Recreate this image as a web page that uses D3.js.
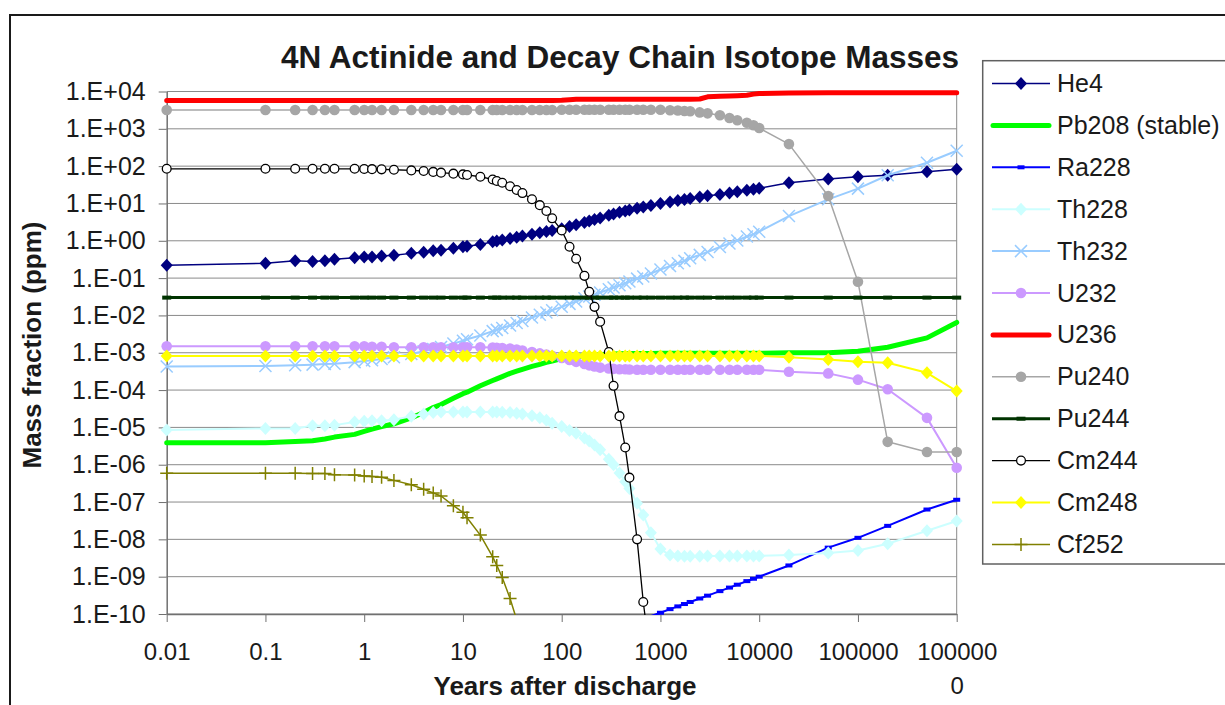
<!DOCTYPE html>
<html>
<head>
<meta charset="utf-8">
<script src="https://cdn.jsdelivr.net/npm/d3@7"></script>
<style>
  body { margin: 0; background: #fff; }
  svg { display: block; font-family: 'Liberation Sans', Arial, sans-serif; }
</style>
</head>
<body>
<svg id="chart" width="1225" height="705"></svg>
<script>
// time points (years after discharge)
const years = [0.01, 0.1, 0.2, 0.3, 0.4, 0.5, 0.8, 1, 1.2, 1.5,
  2, 3, 4, 5, 6, 8, 10, 11, 15, 20,
  22, 25, 30, 35, 40, 50, 60, 70, 80, 100,
  120, 140, 170, 190, 215, 245, 300, 335, 385, 440,
  485, 580, 670, 800, 1000, 1250, 1500, 1750, 2000, 2500,
  3000, 4000, 5000, 6000, 7500, 8750, 10000, 20000, 50000, 100000,
  200000, 500000, 1000000];

// mass fractions, ppm (null = off the chart)
const he4 = [0.22, 0.25, 0.29, 0.28, 0.29, 0.32, 0.35, 0.37, 0.37, 0.39,
  0.41, 0.46, 0.49, 0.54, 0.56, 0.63, 0.69, 0.71, 0.8, 0.94,
  0.98, 1.05, 1.16, 1.25, 1.34, 1.5, 1.65, 1.78, 1.9, 2.1,
  2.4, 2.7, 3.1, 3.4, 3.7, 4.1, 4.8, 5.2, 5.8, 6.3,
  6.7, 7.4, 8, 8.8, 10, 11, 12, 12.8, 13.5, 14.8,
  16, 17.5, 19, 20.5, 22.5, 24, 25.5, 36, 45, 52,
  57, 71, 82];
const pb208 = [3.9e-6, 3.9e-6, 4.2e-6, 4.4e-6, 4.9e-6, 5.5e-6, 6.5e-6, 7.8e-6, 9e-6, 1.05e-5,
  1.25e-5, 1.8e-5, 2.5e-5, 3.4e-5, 4.1e-5, 6e-5, 8e-5, 8.8e-5, 1.3e-4, 1.8e-4,
  2e-4, 2.3e-4, 2.8e-4, 3.2e-4, 3.6e-4, 4.3e-4, 4.9e-4, 5.5e-4, 6e-4, 7e-4,
  7.5e-4, 7.9e-4, 8.3e-4, 8.5e-4, 8.7e-4, 8.9e-4, 9.2e-4, 9.3e-4, 9.4e-4, 9.5e-4,
  9.5e-4, 9.6e-4, 9.6e-4, 9.6e-4, 9.7e-4, 9.7e-4, 9.7e-4, 9.7e-4, 9.7e-4, 9.7e-4,
  9.7e-4, 9.7e-4, 9.7e-4, 9.7e-4, 9.7e-4, 9.7e-4, 9.7e-4, 1e-3, 1e-3, 1.1e-3,
  1.4e-3, 2.5e-3, 6.5e-3];
const ra228 = [null, null, null, null, null, null, null, null, null, null,
  null, null, null, null, null, null, null, null, null, null,
  null, null, null, null, null, null, null, null, null, null,
  null, null, null, null, null, null, null, null, null, null,
  null, null, null, 8.8e-11, 1.08e-10, 1.35e-10, 1.6e-10, 1.85e-10, 2.1e-10, 2.6e-10,
  3.1e-10, 4.1e-10, 5.1e-10, 6.1e-10, 7.6e-10, 8.8e-10, 1e-9, 2e-9, 6e-9, 1.1e-8,
  2.3e-8, 6.3e-8, 1.15e-7];
const th228 = [8.5e-6, 9.4e-6, 9.4e-6, 1.1e-5, 1.1e-5, 1.15e-5, 1.4e-5, 1.45e-5, 1.5e-5, 1.5e-5,
  1.6e-5, 2e-5, 2.3e-5, 2.5e-5, 2.6e-5, 2.6e-5, 2.6e-5, 2.6e-5, 2.6e-5, 2.6e-5,
  2.6e-5, 2.55e-5, 2.5e-5, 2.4e-5, 2.3e-5, 2.05e-5, 1.8e-5, 1.55e-5, 1.3e-5, 1.05e-5,
  8.3e-6, 7e-6, 5.2e-6, 4.3e-6, 3.4e-6, 2.5e-6, 1.4e-6, 1e-6, 6e-7, 3.5e-7,
  2.3e-7, 9.3e-8, 4.5e-8, 1.5e-8, 5.5e-9, 3.8e-9, 3.6e-9, 3.5e-9, 3.5e-9, 3.5e-9,
  3.6e-9, 3.6e-9, 3.6e-9, 3.6e-9, 3.6e-9, 3.6e-9, 3.6e-9, 3.8e-9, 4.3e-9, 5e-9,
  7.6e-9, 1.7e-8, 3.1e-8];
const th232 = [4.3e-4, 4.4e-4, 4.6e-4, 4.8e-4, 5e-4, 5.1e-4, 5.6e-4, 6e-4, 6.3e-4, 6.8e-4,
  7.6e-4, 9.3e-4, 1.1e-3, 1.26e-3, 1.43e-3, 1.76e-3, 2.1e-3, 2.3e-3, 2.9e-3, 3.8e-3,
  4.1e-3, 4.6e-3, 5.4e-3, 6.3e-3, 7.1e-3, 8.8e-3, 0.0104, 0.012, 0.0137, 0.017,
  0.0204, 0.0237, 0.0287, 0.032, 0.036, 0.041, 0.05, 0.056, 0.064, 0.073,
  0.081, 0.097, 0.11, 0.133, 0.17, 0.21, 0.25, 0.29, 0.34, 0.42,
  0.5, 0.68, 0.85, 1.02, 1.3, 1.5, 1.75, 4.6, 12.9, 25,
  57, 123, 258];
const u232 = [1.5e-3, 1.5e-3, 1.5e-3, 1.5e-3, 1.5e-3, 1.5e-3, 1.5e-3, 1.5e-3, 1.45e-3, 1.45e-3,
  1.4e-3, 1.4e-3, 1.4e-3, 1.4e-3, 1.4e-3, 1.4e-3, 1.4e-3, 1.4e-3, 1.4e-3, 1.38e-3,
  1.36e-3, 1.34e-3, 1.3e-3, 1.22e-3, 1.15e-3, 1.05e-3, 9.6e-4, 8.9e-4, 8.3e-4, 7.2e-4,
  6.4e-4, 5.7e-4, 5e-4, 4.6e-4, 4.3e-4, 4e-4, 3.8e-4, 3.7e-4, 3.6e-4, 3.6e-4,
  3.55e-4, 3.5e-4, 3.5e-4, 3.5e-4, 3.5e-4, 3.5e-4, 3.5e-4, 3.5e-4, 3.5e-4, 3.5e-4,
  3.5e-4, 3.5e-4, 3.5e-4, 3.5e-4, 3.5e-4, 3.5e-4, 3.5e-4, 3.1e-4, 2.8e-4, 1.9e-4,
  1.05e-4, 1.8e-5, 8.3e-7];
const u236 = [5700, 5700, 5700, 5700, 5700, 5700, 5700, 5700, 5700, 5700,
  5700, 5700, 5700, 5700, 5700, 5700, 5700, 5700, 5700, 5700,
  5700, 5700, 5700, 5700, 5700, 5700, 5700, 5700, 5700, 5800,
  6000, 6200, 6200, 6200, 6200, 6200, 6200, 6200, 6200, 6200,
  6200, 6200, 6200, 6200, 6200, 6200, 6200, 6200, 6200, 6300,
  7200, 7500, 7600, 7700, 7900, 8500, 8800, 9100, 9300, 9300,
  9300, 9300, 9300];
const pu240 = [3200, 3200, 3200, 3200, 3200, 3200, 3200, 3200, 3200, 3200,
  3200, 3200, 3200, 3200, 3200, 3200, 3200, 3200, 3200, 3200,
  3200, 3200, 3200, 3200, 3200, 3200, 3200, 3200, 3200, 3250,
  3250, 3250, 3250, 3250, 3250, 3250, 3250, 3250, 3250, 3250,
  3250, 3250, 3250, 3250, 3250, 3150, 3100, 3000, 2950, 2750,
  2600, 2300, 1950, 1700, 1450, 1250, 1050, 390, 15.8, 0.08,
  4.1e-6, 2.2e-6, 2.2e-6];
const pu244 = [0.03, 0.03, 0.03, 0.03, 0.03, 0.03, 0.03, 0.03, 0.03, 0.03,
  0.03, 0.03, 0.03, 0.03, 0.03, 0.03, 0.03, 0.03, 0.03, 0.03,
  0.03, 0.03, 0.03, 0.03, 0.03, 0.03, 0.03, 0.03, 0.03, 0.03,
  0.03, 0.03, 0.03, 0.03, 0.03, 0.03, 0.03, 0.03, 0.03, 0.03,
  0.03, 0.03, 0.03, 0.03, 0.03, 0.03, 0.03, 0.03, 0.03, 0.03,
  0.03, 0.03, 0.03, 0.03, 0.03, 0.03, 0.03, 0.03, 0.03, 0.03,
  0.03, 0.03, 0.03];
const cm244 = [85, 85, 85, 85, 85, 85, 85, 84, 83, 82,
  80, 77, 74, 70, 67, 63, 60, 58, 52, 44,
  40, 36, 29, 23, 19, 13, 9, 6.3, 4, 1.9,
  0.69, 0.33, 0.115, 0.043, 0.017, 0.0068, 1.05e-3, 1.3e-4, 2e-5, 2.9e-6,
  4.5e-7, 1e-8, 2.1e-10, 5e-12, null, null, null, null, null, null,
  null, null, null, null, null, null, null, null, null, null,
  null, null, null];
const cm248 = [8.2e-4, 8.2e-4, 8.2e-4, 8.2e-4, 8.2e-4, 8.2e-4, 8.2e-4, 8.2e-4, 8.2e-4, 8.2e-4,
  8.2e-4, 8.2e-4, 8.2e-4, 8.2e-4, 8.2e-4, 8.2e-4, 8.2e-4, 8.2e-4, 8.2e-4, 8.2e-4,
  8.2e-4, 8.2e-4, 8.2e-4, 8.2e-4, 8.2e-4, 8.2e-4, 8.2e-4, 8.2e-4, 8.2e-4, 8.2e-4,
  8.2e-4, 8.2e-4, 8.2e-4, 8.2e-4, 8.2e-4, 8.2e-4, 8.2e-4, 8.2e-4, 8.2e-4, 8.2e-4,
  8.2e-4, 8.2e-4, 8.2e-4, 8.2e-4, 8.2e-4, 8.2e-4, 8.2e-4, 8.2e-4, 8.2e-4, 8.2e-4,
  8.2e-4, 8.2e-4, 8.2e-4, 8.2e-4, 8.2e-4, 8.2e-4, 8.2e-4, 7.6e-4, 6.6e-4, 5.7e-4,
  5.4e-4, 2.9e-4, 9.4e-5];
const cf252 = [5.9e-7, 5.9e-7, 5.9e-7, 5.8e-7, 5.8e-7, 5.4e-7, 5.3e-7, 5e-7, 4.8e-7, 4.6e-7,
  3.8e-7, 2.9e-7, 2.2e-7, 1.75e-7, 1.45e-7, 8e-8, 5.3e-8, 3.8e-8, 1.3e-8, 3.4e-9,
  2e-9, 9.5e-10, 2.6e-10, 7e-11, null, null, null, null, null, null,
  null, null, null, null, null, null, null, null, null, null,
  null, null, null, null, null, null, null, null, null, null,
  null, null, null, null, null, null, null, null, null, null,
  null, null, null];

// axis ticks
const xTickValues = [0.01, 0.1, 1, 10, 100, 1000, 10000, 100000, 1000000];
const xTickLabels = ['0.01', '0.1', '1', '10', '100', '1000', '10000', '100000', '1000000'];
const yTickValues = [1e4, 1e3, 1e2, 1e1, 1, 1e-1, 1e-2, 1e-3, 1e-4, 1e-5, 1e-6, 1e-7, 1e-8, 1e-9, 1e-10];
const yTickLabels = ['1.E+04', '1.E+03', '1.E+02', '1.E+01', '1.E+00', '1.E-01', '1.E-02', '1.E-03',
  '1.E-04', '1.E-05', '1.E-06', '1.E-07', '1.E-08', '1.E-09', '1.E-10'];

const series = [
  { name: 'He4', values: he4, color: '#000080', width: 1.5, marker: 'diamond' },
  { name: 'Pb208 (stable)', values: pb208, color: '#00ff00', width: 5, marker: 'none' },
  { name: 'Ra228', values: ra228, color: '#0000ff', width: 2, marker: 'dash', mw: 7, mh: 4 },
  { name: 'Th228', values: th228, color: '#ccffff', width: 2, marker: 'diamond' },
  { name: 'Th232', values: th232, color: '#99ccff', width: 2, marker: 'x' },
  { name: 'U232', values: u232, color: '#cc99ff', width: 2, marker: 'circle' },
  { name: 'U236', values: u236, color: '#ff0000', width: 5, marker: 'none' },
  { name: 'Pu240', values: pu240, color: '#a6a6a6', width: 1.5, marker: 'circle' },
  { name: 'Pu244', values: pu244, color: '#003300', width: 3, marker: 'dash', mw: 9, mh: 4 },
  { name: 'Cm244', values: cm244, color: '#000000', width: 1.3, marker: 'open' },
  { name: 'Cm248', values: cm248, color: '#ffff00', width: 2, marker: 'diamond' },
  { name: 'Cf252', values: cf252, color: '#808000', width: 1.5, marker: 'plus' }
];

// layout
const PLOT = { left: 166.7, right: 956.7, top: 91.5, bottom: 614 };
const FONT = "'Liberation Sans', Arial, sans-serif";

const svg = d3.select('#chart');
svg.append('rect').attr('width', 1225).attr('height', 705).attr('fill', '#fff');
svg.append('rect')
  .attr('x', 10).attr('y', 15).attr('width', 1300).attr('height', 800)
  .attr('fill', 'none').attr('stroke', '#1a1a1a').attr('stroke-width', 2);

const x = d3.scaleLog().domain([0.01, 1e6]).range([PLOT.left, PLOT.right]);
const y = d3.scaleLog().domain([1e-10, 1e4]).range([PLOT.bottom, PLOT.top]);

// gridlines + right border
svg.append('g').selectAll('line').data(yTickValues).join('line')
  .attr('x1', PLOT.left).attr('x2', PLOT.right)
  .attr('y1', d => y(d)).attr('y2', d => y(d))
  .attr('stroke', '#8a8a8a').attr('stroke-width', 1);
svg.append('line')
  .attr('x1', PLOT.right).attr('x2', PLOT.right)
  .attr('y1', PLOT.top).attr('y2', PLOT.bottom)
  .attr('stroke', '#8a8a8a');

// axes
const gx = svg.append('g')
  .attr('transform', 'translate(0,' + PLOT.bottom + ')')
  .call(d3.axisBottom(x).tickValues(xTickValues)
    .tickFormat((d, i) => xTickLabels[i]).tickSize(8).tickSizeOuter(0).tickPadding(21));
gx.attr('font-size', 24).attr('font-family', FONT);
gx.selectAll('text').attr('fill', '#1a1a1a').each(function (d, i) {
  const lbl = xTickLabels[i];
  if (lbl.length > 6) {
    const t = d3.select(this).text(null);
    t.append('tspan').attr('x', 0).text(lbl.slice(0, 6));
    t.append('tspan').attr('x', 0).attr('dy', 34).text(lbl.slice(6));
  }
});

const gy = svg.append('g')
  .attr('transform', 'translate(' + PLOT.left + ',0)')
  .call(d3.axisLeft(y).tickValues(yTickValues)
    .tickFormat((d, i) => yTickLabels[i]).tickSize(8).tickSizeOuter(0).tickPadding(13));
gy.attr('font-size', 25).attr('font-family', FONT);
gy.selectAll('text').attr('fill', '#1a1a1a');

[gx, gy].forEach(g => {
  g.select('.domain').attr('stroke', '#707070').attr('stroke-width', 1.5);
  g.selectAll('.tick line').attr('stroke', '#707070');
});

// clip lines at the plot area
svg.append('clipPath').attr('id', 'plotClip')
  .append('rect')
  .attr('x', PLOT.left - 15).attr('y', PLOT.top - 10)
  .attr('width', PLOT.right - PLOT.left + 30).attr('height', PLOT.bottom - PLOT.top + 11);

const line = d3.line()
  .defined(d => d.v != null)
  .x(d => x(d.t))
  .y(d => y(d.v));

function drawMarker(g, s, cx, cy) {
  switch (s.marker) {
    case 'diamond':
      g.append('path')
        .attr('d', `M${cx},${cy - 6.5}L${cx + 6},${cy}L${cx},${cy + 6.5}L${cx - 6},${cy}Z`)
        .attr('fill', s.color);
      break;
    case 'circle':
      g.append('circle').attr('cx', cx).attr('cy', cy).attr('r', 5.3).attr('fill', s.color);
      break;
    case 'open':
      g.append('circle').attr('cx', cx).attr('cy', cy).attr('r', 4.4)
        .attr('fill', '#fff').attr('stroke', s.color).attr('stroke-width', 1.3);
      break;
    case 'x':
      g.append('path')
        .attr('d', `M${cx - 6},${cy - 6}L${cx + 6},${cy + 6}M${cx - 6},${cy + 6}L${cx + 6},${cy - 6}`)
        .attr('stroke', s.color).attr('stroke-width', 1.5);
      break;
    case 'plus':
      g.append('path')
        .attr('d', `M${cx - 6.5},${cy}L${cx + 6.5},${cy}M${cx},${cy - 6.5}L${cx},${cy + 6.5}`)
        .attr('stroke', s.color).attr('stroke-width', 1.5);
      break;
    case 'dash':
      g.append('rect')
        .attr('x', cx - s.mw / 2).attr('y', cy - s.mh / 2)
        .attr('width', s.mw).attr('height', s.mh).attr('fill', s.color);
      break;
  }
}

const plot = svg.append('g');
series.forEach(s => {
  const pts = years.map((t, i) => ({ t, v: s.values[i] }));
  const g = plot.append('g');
  g.append('path')
    .datum(pts)
    .attr('clip-path', 'url(#plotClip)')
    .attr('d', line)
    .attr('fill', 'none')
    .attr('stroke', s.color)
    .attr('stroke-width', s.width)
    .attr('stroke-linejoin', 'round')
    .attr('stroke-linecap', s.width >= 5 ? 'round' : 'butt');
  if (s.marker !== 'none') {
    pts.filter(p => p.v != null && p.v >= 1e-10 && p.v <= 1e4)
      .forEach(p => drawMarker(g, s, x(p.t), y(p.v)));
  }
});

// titles
svg.append('text')
  .attr('x', 620).attr('y', 68)
  .attr('text-anchor', 'middle')
  .attr('font-family', FONT).attr('font-size', 31.5).attr('font-weight', 'bold')
  .attr('fill', '#1a1a1a')
  .text('4N Actinide and Decay Chain Isotope Masses');

svg.append('text')
  .attr('x', 565).attr('y', 695)
  .attr('text-anchor', 'middle')
  .attr('font-family', FONT).attr('font-size', 26).attr('font-weight', 'bold')
  .attr('fill', '#1a1a1a')
  .text('Years after discharge');

svg.append('text')
  .attr('transform', 'translate(41,345) rotate(-90)')
  .attr('text-anchor', 'middle')
  .attr('font-family', FONT).attr('font-size', 26).attr('font-weight', 'bold')
  .attr('fill', '#1a1a1a')
  .text('Mass fraction (ppm)');

// legend
const LEG = { x: 982.7, y: 60.7, h: 503.3, row0: 83.5, step: 41.9 };
const legend = svg.append('g');
legend.append('rect')
  .attr('x', LEG.x).attr('y', LEG.y).attr('width', 300).attr('height', LEG.h)
  .attr('fill', '#fff').attr('stroke', '#606060').attr('stroke-width', 1.5);

series.forEach((s, i) => {
  const cy = LEG.row0 + i * LEG.step;
  const g = legend.append('g');
  g.append('line')
    .attr('x1', s.width >= 5 ? 993 : 992).attr('x2', s.width >= 5 ? 1049 : 1050)
    .attr('y1', cy).attr('y2', cy)
    .attr('stroke', s.color).attr('stroke-width', s.width)
    .attr('stroke-linecap', s.width >= 5 ? 'round' : 'butt');
  if (s.marker !== 'none') drawMarker(g, s, 1021, cy);
  g.append('text')
    .attr('x', 1057).attr('y', cy + 8.5)
    .attr('font-family', FONT).attr('font-size', 25)
    .attr('fill', '#1a1a1a')
    .text(s.name);
});
</script>
</body>
</html>
